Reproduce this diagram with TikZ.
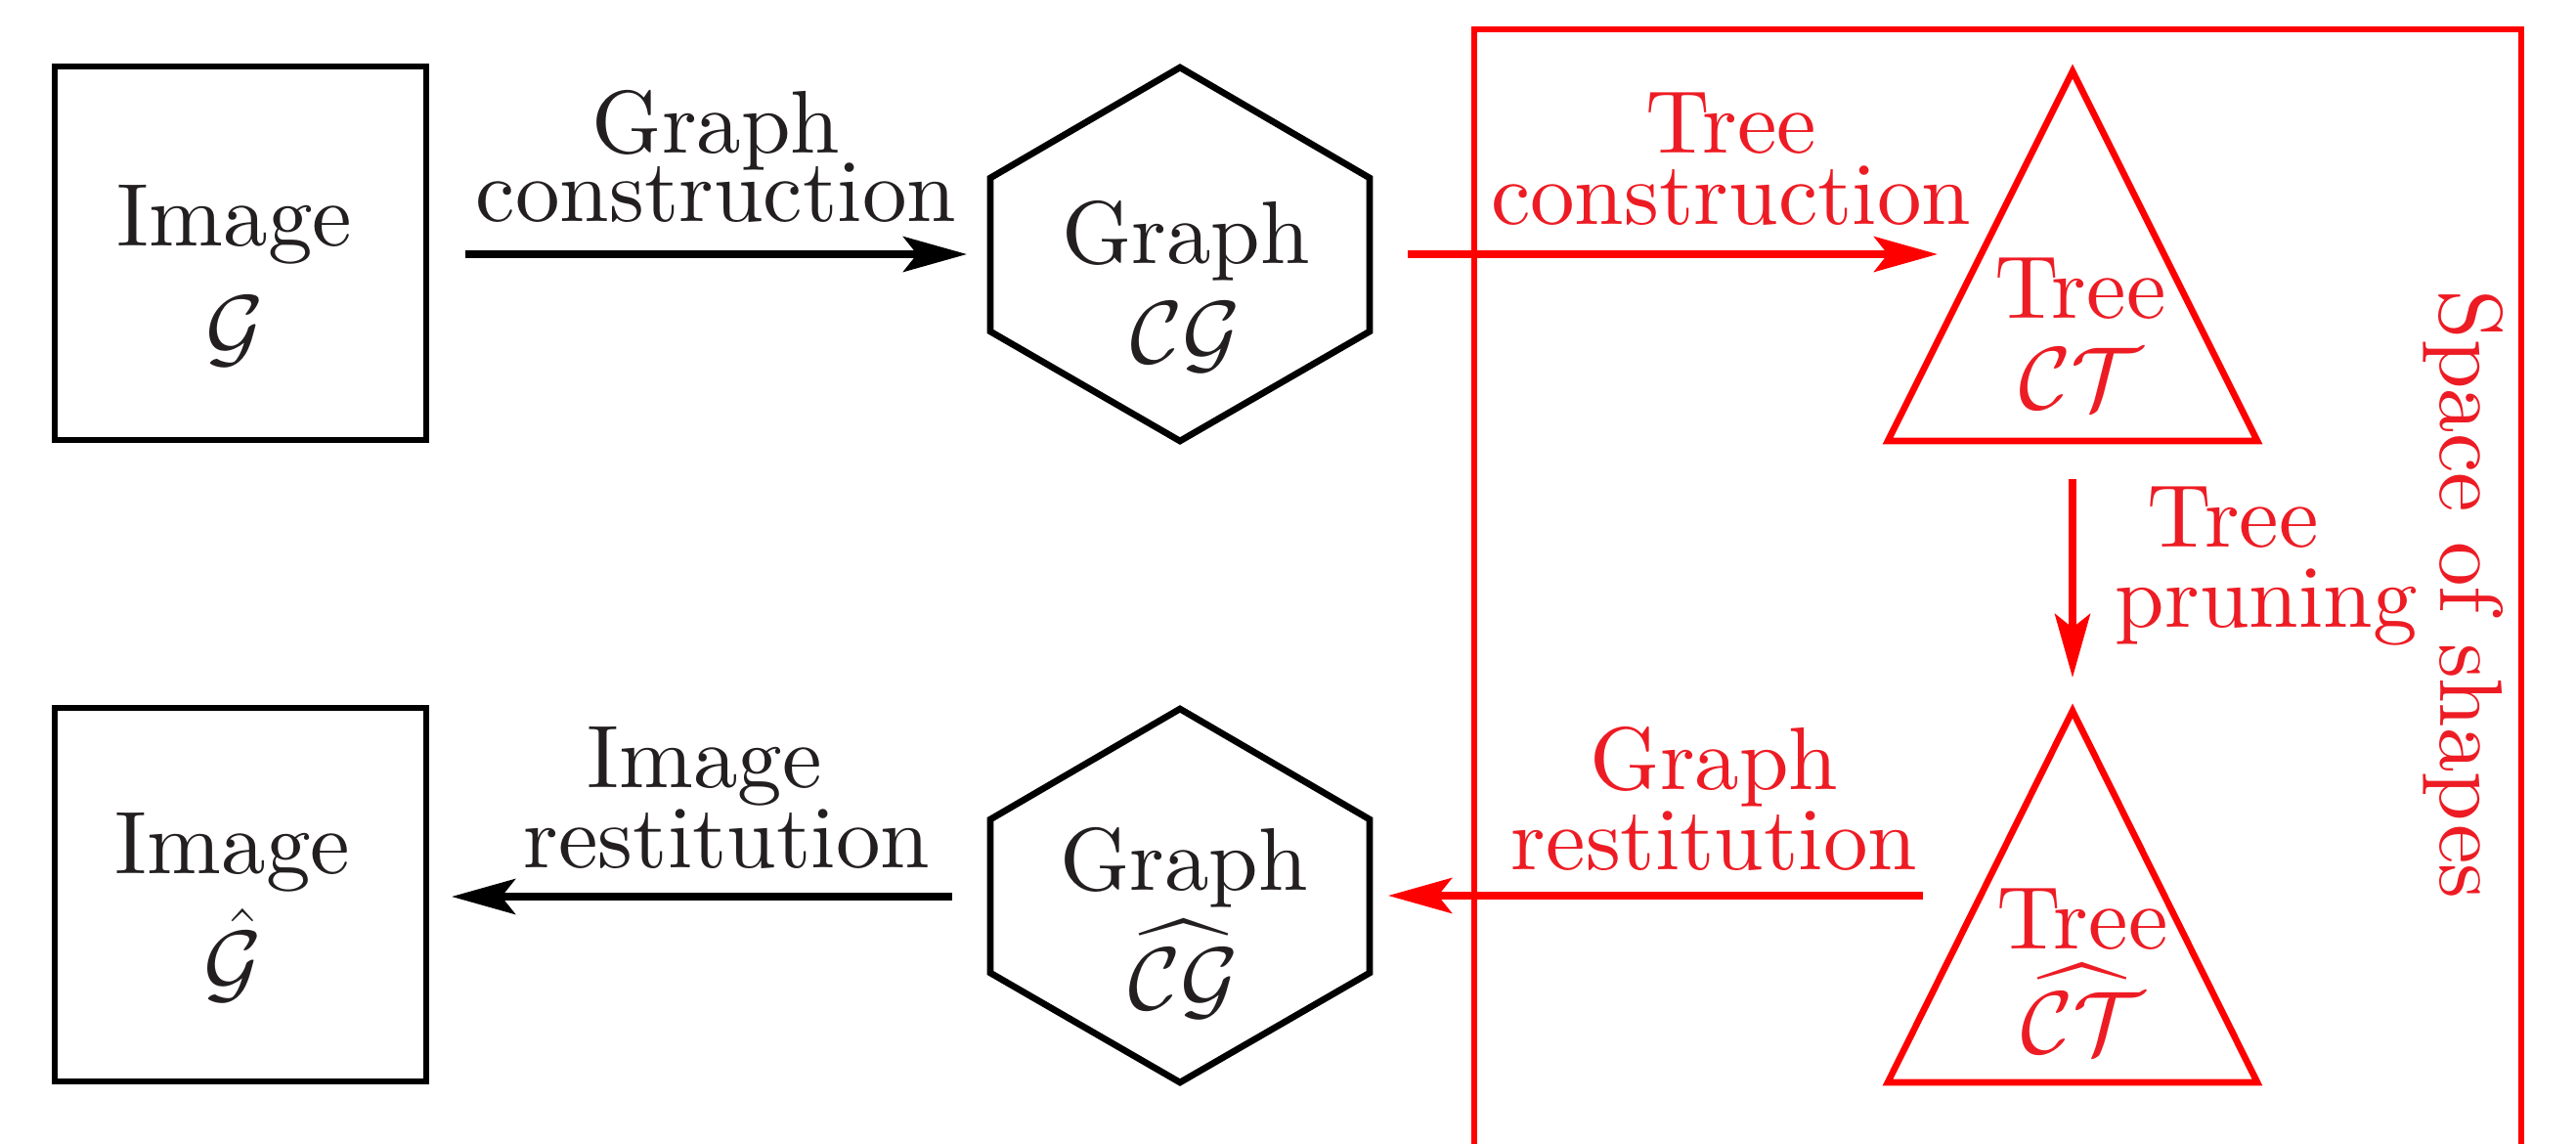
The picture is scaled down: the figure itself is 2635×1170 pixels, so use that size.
\documentclass[tikz,border=0pt]{standalone}
\usepackage{exscale}
\usepackage{fontspec}
\setmainfont{lmroman10-regular.otf}
\usetikzlibrary{arrows.meta}

\definecolor{inkblack}{RGB}{35,31,32}
\definecolor{inkred}{RGB}{237,28,36}

\tikzset{
  shp/.style={line width=1.83pt, line join=miter},
  arr/.style={line width=2.05pt, -{Stealth[length=6.25mm, width=3.46mm, inset=1.35mm]}},
  txt/.style={align=center, inner sep=0pt, text=inkblack, font=\fontsize{24.88}{31}\selectfont},
  lab/.style={txt, font=\fontsize{24.88}{22.4}\selectfont},
}

\begin{document}
\begin{tikzpicture}[x=0.0961mm, y=-0.0961mm]
  \useasboundingbox (0,0) rectangle (2635,1170);

  % Space of shapes
  \draw[shp, red] (1508,1170) -- (1508,30) -- (2579,30) -- (2579,1170);
  \node[txt, text=inkred, rotate=-90] (space) at (2520,608) {Space of shapes};

  % 上面一行
  \draw[shp] (56,68) rectangle (436,450);
  \node[txt] (img) at (240,282) {Image\\$\mathcal{G}$};
  \draw[shp] (1207,69) -- (1401,182) -- (1401,339) -- (1207,451) -- (1013,339) -- (1013,182) -- cycle;
  \node[txt] (graph) at (1213,293) {Graph\\[-3pt]$\mathcal{CG}$};
  \draw[shp, red] (2120,73) -- (2309,451) -- (1931,451) -- cycle;
  \node[txt, text=inkred] (tree) at (2128,341) {Tree\\[-5.5pt]$\mathcal{CT}$};

  % 下面一行
  \draw[shp] (56,724) rectangle (436,1106);
  \node[txt] (imghat) at (238,928) {Image\\[2.2pt]$\hat{\mathcal{G}}$};
  \draw[shp] (1207,725) -- (1401,838) -- (1401,995) -- (1207,1107) -- (1013,995) -- (1013,838) -- cycle;
  \node[txt] (graphhat) at (1211,944) {Graph\\[2.3pt]$\widehat{\mathcal{CG}}$};
  \draw[shp, red] (2120,727) -- (2309,1107) -- (1931,1107) -- cycle;
  \node[txt, text=inkred] (treehat) at (2130,993) {Tree\\[-1.6pt]$\widehat{\mathcal{CT}}$};

  % 箭头端点
  \coordinate (gc0) at (476,260);  \coordinate (gc1) at (989,260);
  \coordinate (tc0) at (1440,260); \coordinate (tc1) at (1982,260);
  \coordinate (tp0) at (2120,490); \coordinate (tp1) at (2120,693);
  \coordinate (gr0) at (1967,916); \coordinate (gr1) at (1420,916);
  \coordinate (ir0) at (974,917);  \coordinate (ir1) at (462,917);

  % 箭头
  \draw[arr] (gc0) -- node[lab, above=2.8mm, pos=0.5] (gclab) {Graph\\[-3.5pt]construction} (gc1);
  \draw[arr, red] (tc0) -- node[lab, text=inkred, above=2.45mm, pos=0.61] (tclab) {Tree\\[-2.4pt]construction} (tc1);
  \draw[arr, red] (tp0) -- node[lab, text=inkred, right=3.85mm, pos=0.44] (tplab) {Tree\hspace*{0.75em}\\pruning} (tp1);
  \draw[arr, red] (gr0) -- node[lab, text=inkred, above=2.1mm, pos=0.39] (grlab) {Graph\\restitution} (gr1);
  \draw[arr] (ir0) -- node[lab, above=2.4mm, pos=0.45] (irlab) {Image\hspace*{0.5em}\\restitution} (ir1);
\end{tikzpicture}
\end{document}
